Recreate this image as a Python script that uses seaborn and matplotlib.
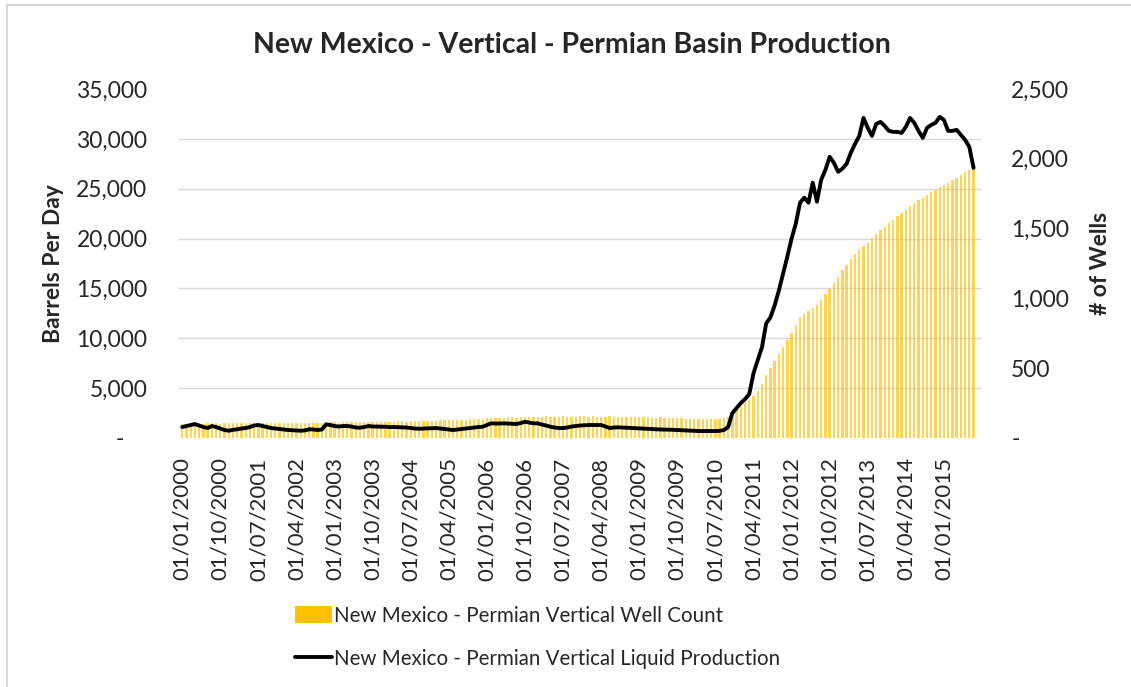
import numpy as np
import pandas as pd
import matplotlib
matplotlib.use("Agg")
import matplotlib.pyplot as plt
from matplotlib.lines import Line2D
from matplotlib.patches import Patch
from matplotlib.ticker import FuncFormatter
import seaborn as sns

# Monthly values, Jan 2000 - Aug 2015
liquid_bpd = [
    1100, 1200, 1300, 1400, 1250, 1100, 1000, 1200, 1100, 950, 800, 730,
    820, 870, 950, 1000, 1100, 1250, 1300, 1200, 1100, 1000, 950, 900,
    850, 800, 780, 750, 730, 760, 870, 850, 800, 850, 1370, 1300,
    1200, 1150, 1200, 1200, 1150, 1050, 1030, 1100, 1200, 1150, 1150, 1130,
    1130, 1100, 1100, 1080, 1070, 1050, 1000, 950, 930, 950, 980, 1000,
    1000, 950, 900, 850, 800, 850, 900, 950, 1000, 1050, 1100, 1130,
    1300, 1470, 1450, 1450, 1470, 1450, 1420, 1400, 1500, 1630, 1550, 1470,
    1470, 1350, 1250, 1130, 1050, 1000, 1000, 1050, 1150, 1200, 1250, 1280,
    1300, 1300, 1300, 1300, 1150, 1000, 1050, 1070, 1050, 1030, 1000, 1000,
    980, 950, 920, 900, 870, 860, 850, 840, 820, 800, 780, 760,
    740, 720, 700, 700, 700, 700, 700, 720, 800, 1100, 2500, 3000,
    3500, 3900, 4400, 6500, 7800, 9100, 11500, 12100, 13300, 14800, 16500, 18200,
    20000, 21500, 23600, 24100, 23600, 25600, 23700, 25900, 26900, 28200, 27600, 26700,
    27000, 27500, 28600, 29500, 30300, 32100, 31100, 30300, 31500, 31700, 31300, 30800,
    30700, 30700, 30600, 31200, 32100, 31600, 30800, 30100, 31100, 31400, 31600, 32200,
    31900, 30800, 30800, 30900, 30400, 29900, 29200, 27100,
]

well_count = [
    100, 102, 105, 105, 103, 102, 104, 106, 105, 103, 104, 106,
    105, 106, 108, 107, 105, 106, 108, 107, 106, 105, 106, 108,
    107, 105, 104, 105, 106, 105, 104, 105, 107, 109, 111, 112,
    112, 111, 112, 114, 113, 112, 113, 115, 117, 115, 114, 116,
    118, 116, 118, 120, 119, 117, 119, 121, 123, 121, 120, 122,
    124, 126, 128, 127, 126, 129, 132, 131, 133, 135, 137, 136,
    140, 143, 145, 144, 146, 148, 147, 146, 149, 152, 150, 149,
    150, 152, 155, 153, 151, 153, 156, 154, 152, 154, 156, 155,
    154, 156, 154, 151, 153, 156, 154, 151, 149, 151, 149, 147,
    147, 149, 147, 144, 146, 148, 146, 143, 140, 142, 140, 138,
    138, 136, 137, 139, 137, 135, 136, 139, 142, 150, 175, 200,
    225, 250, 275, 300, 340, 390, 450, 500, 550, 600, 650, 700,
    750, 810, 865, 890, 910, 930, 950, 990, 1030, 1070, 1110, 1150,
    1200, 1240, 1280, 1320, 1350, 1375, 1400, 1430, 1460, 1490, 1515, 1540,
    1565, 1590, 1612, 1635, 1660, 1682, 1705, 1722, 1740, 1760, 1778, 1795,
    1812, 1830, 1848, 1866, 1885, 1903, 1920, 1945,
]

tick_labels = [
    "01/01/2000", "01/10/2000", "01/07/2001", "01/04/2002", "01/01/2003",
    "01/10/2003", "01/07/2004", "01/04/2005", "01/01/2006", "01/10/2006",
    "01/07/2007", "01/04/2008", "01/01/2009", "01/10/2009", "01/07/2010",
    "01/04/2011", "01/01/2012", "01/10/2012", "01/07/2013", "01/04/2014",
    "01/01/2015",
]

BAR_COLOR = "#FFC000"
GRID_COLOR = "#D9D9D9"
TEXT_COLOR = "#262626"

sns.set_theme(style="white")
plt.rcParams["font.family"] = ["Lato", "DejaVu Sans"]

df = pd.DataFrame({
    "pos": np.arange(len(well_count)),
    "wells": well_count,
    "bpd": liquid_bpd,
})

W, H = 1131, 687
fig = plt.figure(figsize=(W / 100, H / 100), dpi=100)
ax = fig.add_axes([178 / W, 1 - 438 / H, (982 - 178) / W, (438 - 89) / H])
ax2 = ax.twinx()

# bars on the right axis, line on the left axis drawn above
sns.barplot(data=df, x="pos", y="wells", native_scale=True, ax=ax2,
            color=BAR_COLOR, width=0.55, alpha=0.68, saturation=1,
            edgecolor="none")
sns.lineplot(data=df, x="pos", y="bpd", ax=ax, color="black", linewidth=2.8)
ax.set_zorder(ax2.get_zorder() + 1)
ax.patch.set_visible(False)

ax.set_xlim(-1, 189)
ax.set_ylim(0, 35000)
ax2.set_ylim(0, 2500)
ax.set_yticks(np.arange(0, 35001, 5000))
ax2.set_yticks(np.arange(0, 2501, 500))

# gridlines follow the left axis, drawn behind the bars
ax2.set_yticks(np.linspace(0, 2500, 8), minor=True)
ax2.grid(False)
ax2.grid(which="minor", axis="y", color=GRID_COLOR, linewidth=1.0)
ax2.set_axisbelow(True)
ax.grid(False)

def left_fmt(v, _):
    return "-    " if v == 0 else f"{v:,.0f}"

def right_fmt(v, _):
    return "-" if v == 0 else f"{v:,.0f}"

ax.yaxis.set_major_formatter(FuncFormatter(left_fmt))
ax2.yaxis.set_major_formatter(FuncFormatter(right_fmt))

tick_pos = df["pos"].values[::9][:len(tick_labels)]
ax.set_xticks(tick_pos)
ax.set_xticklabels(tick_labels, rotation=90)

ax.tick_params(axis="y", length=0, pad=22, labelsize=16.5, labelcolor=TEXT_COLOR)
ax2.tick_params(axis="y", which="both", length=0, pad=21, labelsize=16.5,
                labelcolor=TEXT_COLOR)
ax.tick_params(axis="x", length=6, width=1, color="#BFBFBF", pad=8,
               labelsize=16, labelcolor=TEXT_COLOR)

for a in (ax, ax2):
    for s in a.spines.values():
        s.set_visible(False)

ax.set_xlabel("")
ax2.set_xlabel("")
ax.set_ylabel("Barrels Per Day", fontsize=16.5, fontweight="bold",
              color=TEXT_COLOR, labelpad=9)
ax2.set_ylabel("# of Wells", fontsize=16.5, fontweight="bold",
               color=TEXT_COLOR, labelpad=15)

fig.text(572 / W, 1 - 45 / H, "New Mexico - Vertical - Permian Basin Production",
         ha="center", va="center", fontsize=20.5, fontweight="bold",
         color=TEXT_COLOR)

handles = [
    Patch(facecolor=BAR_COLOR, edgecolor="none"),
    Line2D([0], [0], color="black", linewidth=2.8),
]
labels = [
    "New Mexico - Permian Vertical Well Count",
    "New Mexico - Permian Vertical Liquid Production",
]
fig.legend(handles, labels, loc="upper left",
           bbox_to_anchor=(276 / W, 1 - 587 / H), frameon=False,
           fontsize=14.8, handlelength=1.8, handleheight=0.9,
           handletextpad=0.1, labelspacing=1.15, labelcolor=TEXT_COLOR)

# chart border (top and left edges visible in the original)
fig.add_artist(Line2D([7 / W, 1], [1 - 5 / H, 1 - 5 / H],
                      transform=fig.transFigure, color="#D0D0D0", linewidth=1.2))
fig.add_artist(Line2D([7 / W, 7 / W], [0, 1 - 5 / H],
                      transform=fig.transFigure, color="#D0D0D0", linewidth=1.2))

fig.savefig("out.png", dpi=100)
